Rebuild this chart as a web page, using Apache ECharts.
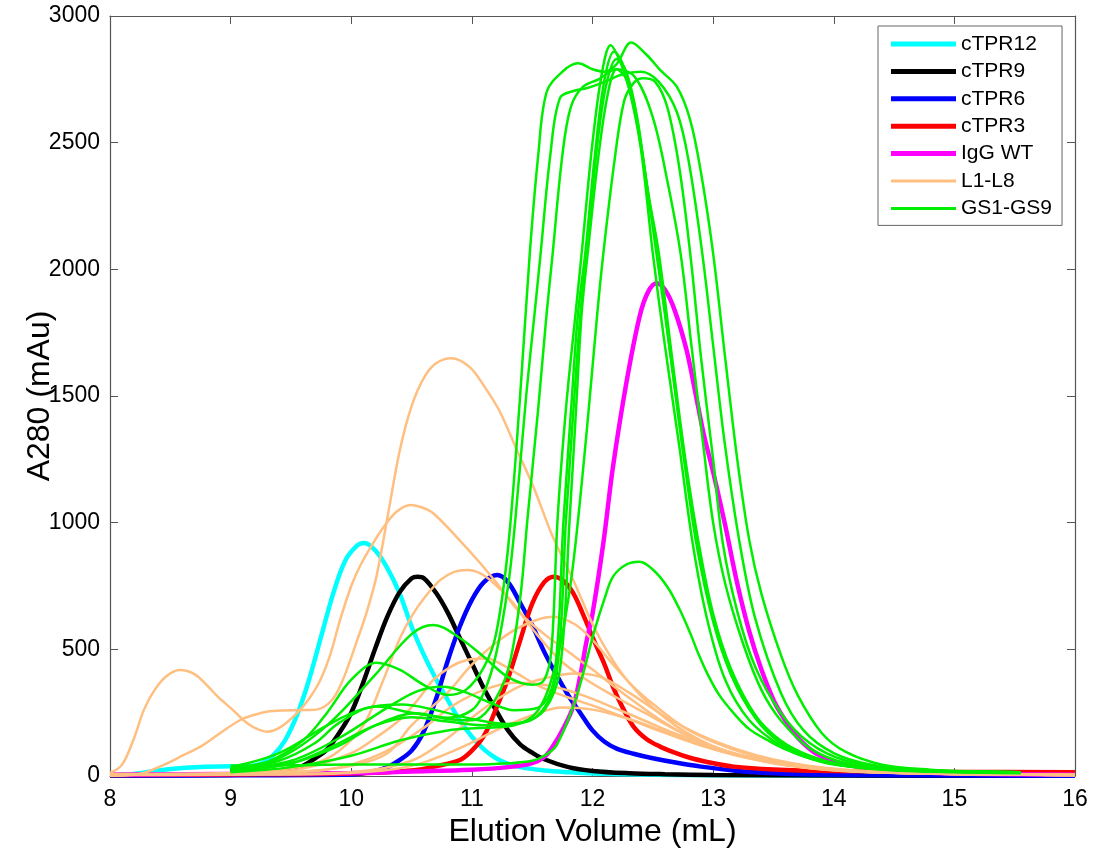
<!DOCTYPE html>
<html><head><meta charset="utf-8">
<script src="https://cdn.jsdelivr.net/npm/echarts@6/dist/echarts.min.js"></script>
<style>html,body{margin:0;padding:0;background:#fff}#c{width:1099px;height:854px}</style>
</head><body><div id="c"></div><script>
// ---- data: [elution volume (mL), A280 (mAu)] ----
const cTPR12 = [[8,3],[8.2,8],[8.4,22],[8.6,32],[8.8,37],[9.0,38],[9.15,40],[9.25,48],[9.35,80],[9.45,140],[9.55,240],[9.65,380],[9.75,550],[9.85,720],[9.95,850],[10.05,910],[10.11,920],[10.2,890],[10.3,820],[10.4,722],[10.5,590],[10.6,480],[10.7,385],[10.8,300],[10.9,220],[11.0,155],[11.1,105],[11.2,70],[11.3,48],[11.4,35],[11.6,22],[11.8,15],[12.0,10],[12.5,5],[13,3],[14,2],[16,1]];
const cTPR9 = [[8,2],[9,4],[9.3,10],[9.5,25],[9.6,40],[9.7,70],[9.8,105],[9.9,170],[10.0,250],[10.1,370],[10.2,505],[10.3,630],[10.4,725],[10.5,780],[10.55,787],[10.6,782],[10.7,725],[10.8,645],[10.9,545],[11.0,445],[11.1,345],[11.2,260],[11.3,180],[11.4,125],[11.5,92],[11.6,66],[11.8,35],[12.0,20],[12.3,11],[12.6,7],[13,4],[14,2],[16,1]];
const cTPR6 = [[8,2],[9,3],[10,6],[10.2,20],[10.3,35],[10.4,63],[10.5,100],[10.6,175],[10.7,300],[10.8,455],[10.9,590],[11.0,695],[11.1,765],[11.21,793],[11.3,765],[11.4,683],[11.5,595],[11.6,490],[11.7,400],[11.8,318],[11.9,248],[12.0,180],[12.1,135],[12.2,108],[12.34,88],[12.5,70],[12.7,52],[12.9,37],[13.2,20],[13.45,12],[13.8,6],[14.5,3],[16,1]];
const cTPR3 = [[8,4],[9,6],[10,10],[10.5,22],[10.7,38],[10.9,63],[11.0,100],[11.1,158],[11.2,265],[11.3,385],[11.4,535],[11.5,680],[11.6,765],[11.68,787],[11.76,770],[11.84,722],[11.92,640],[12.01,537],[12.1,440],[12.17,352],[12.25,270],[12.34,195],[12.45,145],[12.56,116],[12.67,94],[12.78,76],[12.95,55],[13.17,37],[13.5,26],[14,20],[15,16],[16,15]];
const IgGWT = [[8,5],[9,8],[10,12],[10.5,18],[11,25],[11.3,35],[11.5,51],[11.6,75],[11.67,116],[11.75,180],[11.84,274],[11.9,400],[11.95,530],[12.0,640],[12.09,920],[12.17,1221],[12.28,1550],[12.39,1813],[12.46,1910],[12.53,1945],[12.6,1920],[12.68,1840],[12.78,1681],[12.85,1520],[12.92,1354],[13.0,1200],[13.1,990],[13.2,760],[13.3,570],[13.4,420],[13.5,300],[13.56,248],[13.64,190],[13.72,142],[13.85,90],[14.05,51],[14.3,30],[14.6,18],[15,10],[16,5]];

const L1 = [[8,0],[8.15,3],[8.28,12],[8.45,45],[8.6,80],[8.75,116],[8.9,165],[9.08,221],[9.2,242],[9.3,254],[9.45,259],[9.58,260],[9.71,262],[9.84,300],[9.93,379],[10.05,537],[10.13,650],[10.21,790],[10.3,1020],[10.4,1280],[10.5,1460],[10.6,1570],[10.7,1628],[10.83,1649],[10.98,1615],[11.1,1540],[11.23,1440],[11.37,1290],[11.51,1142],[11.67,945],[11.84,774],[12.01,590],[12.15,470],[12.3,370],[12.5,270],[12.7,195],[12.9,140],[13.1,100],[13.35,65],[13.6,42],[13.9,26],[14.3,15],[15,8],[16,4]];
const L2 = [[8,12],[8.1,45],[8.2,150],[8.28,260],[8.37,340],[8.47,395],[8.58,418],[8.7,402],[8.8,360],[8.9,310],[9.02,260],[9.12,215],[9.2,190],[9.3,175],[9.42,195],[9.55,248],[9.65,305],[9.74,375],[9.82,470],[9.91,620],[10.0,750],[10.07,826],[10.17,910],[10.27,984],[10.38,1045],[10.49,1070],[10.6,1058],[10.68,1037],[10.87,945],[11.07,840],[11.23,747],[11.4,643],[11.6,560],[11.8,490],[12.0,420],[12.2,345],[12.4,275],[12.6,210],[12.8,155],[13.0,115],[13.3,72],[13.6,45],[13.9,28],[14.3,16],[15,8],[16,4]];
const L3 = [[8,8],[9,12],[9.4,25],[9.7,50],[9.9,100],[10.1,200],[10.25,360],[10.4,540],[10.5,630],[10.6,700],[10.74,774],[10.85,805],[10.97,813],[11.07,800],[11.15,774],[11.32,695],[11.51,576],[11.73,458],[11.95,380],[12.2,310],[12.45,245],[12.7,180],[12.95,125],[13.2,85],[13.5,52],[13.8,32],[14.2,18],[15,8],[16,4]];
const L4 = [[8,6],[9,8],[9.5,15],[10,40],[10.3,90],[10.5,200],[10.8,330],[11.0,440],[11.23,537],[11.45,600],[11.67,629],[11.85,600],[12.0,537],[12.17,440],[12.34,352],[12.5,285],[12.75,195],[13.0,135],[13.3,85],[13.6,52],[13.9,32],[14.3,18],[15,8],[16,4]];
const L5 = [[8,5],[9,6],[10,15],[10.5,60],[10.8,150],[11.0,230],[11.2,300],[11.4,355],[11.6,385],[11.85,405],[12.06,392],[12.3,330],[12.6,235],[12.9,160],[13.2,105],[13.5,65],[13.8,40],[14.2,22],[15,9],[16,4]];
const L6 = [[8,5],[9,8],[9.6,30],[10.0,90],[10.2,150],[10.4,221],[10.55,300],[10.68,379],[10.82,430],[10.96,458],[11.12,464],[11.25,440],[11.37,406],[11.57,352],[11.8,310],[12.05,270],[12.3,225],[12.6,170],[12.9,120],[13.2,80],[13.5,52],[13.8,32],[14.2,18],[15,8],[16,4]];
const L7 = [[8,5],[9,6],[9.7,20],[10.0,45],[10.3,100],[10.6,190],[10.85,280],[11.1,340],[11.35,368],[11.6,360],[11.85,330],[12.1,285],[12.4,225],[12.7,165],[13.0,115],[13.3,75],[13.6,47],[13.9,30],[14.3,17],[15,8],[16,4]];
const L8 = [[8,4],[9,5],[10,12],[10.5,40],[10.9,110],[11.2,180],[11.5,240],[11.75,270],[12.0,262],[12.3,225],[12.6,175],[12.9,125],[13.2,85],[13.5,55],[13.8,34],[14.2,19],[15,8],[16,4]];

const GS1 = [[9.0,30],[9.3,55],[9.6,140],[9.8,250],[10.0,380],[10.21,447],[10.4,420],[10.6,360],[10.8,320],[10.95,340],[11.1,430],[11.2,560],[11.3,900],[11.4,1500],[11.48,2063],[11.55,2450],[11.62,2700],[11.75,2780],[11.88,2813],[12.0,2790],[12.1,2780],[12.2,2810],[12.32,2895],[12.45,2846],[12.56,2787],[12.7,2720],[12.81,2589],[12.9,2380],[13.0,2063],[13.1,1650],[13.2,1250],[13.3,930],[13.4,720],[13.56,480],[13.7,320],[13.9,170],[14.1,95],[14.4,45],[14.8,25],[15.2,18],[15.55,15]];
const GS2 = [[9.0,25],[9.4,60],[9.7,130],[9.9,210],[10.21,274],[10.5,250],[10.8,230],[11.0,260],[11.1,330],[11.2,480],[11.3,750],[11.36,1010],[11.45,1500],[11.52,1827],[11.57,2063],[11.65,2450],[11.73,2676],[11.85,2705],[11.95,2715],[12.1,2740],[12.25,2770],[12.4,2780],[12.55,2740],[12.7,2620],[12.8,2420],[12.91,2063],[13.0,1700],[13.1,1300],[13.22,920],[13.35,620],[13.56,330],[13.75,180],[14.0,90],[14.3,45],[14.7,25],[15.2,15],[15.55,12]];
const GS3 = [[9.0,20],[9.5,50],[9.9,120],[10.2,200],[10.54,248],[10.8,225],[11.0,220],[11.15,270],[11.3,420],[11.4,700],[11.46,1010],[11.55,1450],[11.62,1827],[11.67,2063],[11.75,2450],[11.82,2640],[11.92,2720],[12.05,2750],[12.2,2790],[12.35,2760],[12.5,2600],[12.62,2350],[12.73,2063],[12.82,1700],[12.92,1300],[13.0,1000],[13.1,760],[13.25,520],[13.4,340],[13.56,220],[13.8,110],[14.1,50],[14.5,25],[15.0,17],[15.55,14]];
const GS4 = [[9.0,30],[9.4,70],[9.8,200],[10.2,400],[10.5,560],[10.68,596],[10.9,545],[11.1,470],[11.3,390],[11.5,360],[11.6,380],[11.66,500],[11.71,1010],[11.78,1450],[11.86,1827],[11.91,2063],[12.0,2500],[12.08,2780],[12.15,2885],[12.22,2830],[12.3,2720],[12.4,2480],[12.5,2063],[12.6,1700],[12.72,1300],[12.83,920],[12.95,620],[13.1,380],[13.3,220],[13.56,120],[13.8,70],[14.1,40],[14.5,25],[15.0,18],[15.55,15]];
const GS5 = [[9.0,25],[9.5,60],[9.9,150],[10.3,270],[10.55,335],[10.76,352],[10.95,330],[11.15,290],[11.35,260],[11.55,270],[11.68,380],[11.76,1010],[11.83,1500],[11.88,1827],[11.94,2063],[12.02,2450],[12.1,2750],[12.18,2860],[12.26,2800],[12.35,2640],[12.45,2330],[12.53,2063],[12.65,1650],[12.76,1250],[12.87,920],[13.0,620],[13.15,400],[13.35,230],[13.56,130],[13.8,75],[14.1,40],[14.5,25],[15.0,18],[15.55,15]];
const GS6 = [[9.0,20],[9.5,50],[9.9,130],[10.2,200],[10.5,232],[10.8,215],[11.1,200],[11.4,210],[11.6,260],[11.73,420],[11.81,1010],[11.87,1500],[11.91,1827],[11.96,2063],[12.05,2450],[12.13,2700],[12.2,2790],[12.28,2750],[12.38,2550],[12.47,2280],[12.55,2063],[12.66,1650],[12.77,1250],[12.88,920],[13.0,640],[13.15,420],[13.35,240],[13.56,140],[13.8,80],[14.1,42],[14.5,25],[15.0,18],[15.55,15]];
const GS7 = [[9.0,15],[9.5,35],[10.0,80],[10.4,140],[10.8,180],[11.1,190],[11.35,200],[11.55,260],[11.7,450],[11.8,700],[11.86,920],[11.95,1350],[12.04,1827],[12.09,2063],[12.18,2420],[12.26,2660],[12.34,2735],[12.42,2754],[12.52,2740],[12.62,2640],[12.72,2400],[12.81,2063],[12.9,1650],[13.0,1250],[13.08,920],[13.2,650],[13.35,430],[13.56,250],[13.8,130],[14.1,60],[14.5,30],[15.0,18],[15.55,15]];
const GS8 = [[9.0,40],[9.5,42],[10.0,45],[10.5,45],[11.0,45],[11.3,50],[11.5,60],[11.6,80],[11.7,120],[11.84,274],[11.92,400],[12.01,564],[12.1,700],[12.17,787],[12.28,835],[12.39,846],[12.5,815],[12.62,747],[12.72,660],[12.81,564],[12.88,480],[12.95,406],[13.05,320],[13.17,248],[13.3,185],[13.45,142],[13.6,105],[13.8,70],[14.0,45],[14.4,25],[15.0,15],[15.55,12]];
const GS9 = [[9.0,35],[9.4,90],[9.8,200],[10.1,265],[10.42,282],[10.7,260],[11.0,225],[11.3,205],[11.55,240],[11.7,400],[11.78,1010],[11.85,1500],[11.9,1827],[11.95,2063],[12.03,2450],[12.11,2720],[12.2,2830],[12.28,2780],[12.37,2600],[12.46,2300],[12.54,2063],[12.65,1650],[12.76,1250],[12.86,920],[13.0,610],[13.15,400],[13.35,230],[13.56,130],[13.8,75],[14.1,40],[14.5,25],[15.0,18],[15.55,15]];

const legendNames = ['cTPR12','cTPR9','cTPR6','cTPR3','IgG WT','L1-L8','GS1-GS9'];
const xTitle = 'Elution Volume (mL)';
const yTitle = 'A280 (mAu)';

const FONT = 'Liberation Sans, Arial, sans-serif';
const AXC = '#555';
const THICK_ICON = 'path://M0,0H65V5H0Z';
const THIN_ICON = 'path://M0,0H65V3H0Z';
function mk(name, data, color, width){
  return {type:'line', name, data, symbol:'none', showSymbol:false, smooth:0.35,
    lineStyle:{color, width}, itemStyle:{color}, animation:false, emphasis:{disabled:true}};
}
const series = [
  mk('cTPR12', cTPR12, '#00ffff', 4.5),
  mk('cTPR9', cTPR9, '#000000', 4.5),
  mk('cTPR6', cTPR6, '#0000ff', 4.5),
  mk('cTPR3', cTPR3, '#ff0000', 4.5),
  mk('IgG WT', IgGWT, '#ff00ff', 4.5),
];
[L1,L2,L3,L4,L5,L6,L7,L8].forEach(d=>series.push(mk('L1-L8', d, '#ffbf80', 2.5)));
[GS1,GS2,GS3,GS4,GS5,GS6,GS7,GS8,GS9].forEach(d=>series.push(mk('GS1-GS9', d, '#00ee00', 2.5)));

function xAx(pos, show){
  return {type:'value', min:8, max:16, interval:1, position:pos,
    axisLine:{show:true, onZero:false, lineStyle:{color:AXC, width:1.2}},
    axisTick:{show:true, inside:true, length:8, lineStyle:{color:AXC}},
    axisLabel:{show:show, fontSize:23, color:'#000', margin:12, fontFamily:FONT},
    splitLine:{show:false},
    name: show ? xTitle : '', nameLocation:'middle', nameGap:40, nameMoveOverlap:false,
    nameTextStyle:{fontSize:32, color:'#000', fontFamily:FONT}};
}
function yAx(pos, show){
  return {type:'value', min:0, max:3000, interval:500, position:pos,
    axisLine:{show:true, onZero:false, lineStyle:{color:AXC, width:1.2}},
    axisTick:{show:true, inside:true, length:8, lineStyle:{color:AXC}},
    axisLabel:{show:show, fontSize:23, color:'#000', margin:10, fontFamily:FONT,
      formatter:v=>String(v)},
    splitLine:{show:false},
    name: show ? yTitle : '', nameLocation:'middle', nameGap:54, nameRotate:90, nameMoveOverlap:false,
    nameTextStyle:{fontSize:32, color:'#000', fontFamily:FONT}};
}

const legendData = legendNames.map((n,i)=>({name:n, icon: i<5 ? THICK_ICON : THIN_ICON}));

const chart = echarts.init(document.getElementById('c'), null, {renderer:'canvas'});
chart.setOption({
  backgroundColor:'#fff',
  animation:false,
  grid:{left:110, right:24, top:16, bottom:78, containLabel:false, outerBoundsMode:'none'},
  xAxis:[xAx('bottom', true), xAx('top', false)],
  yAxis:[yAx('left', true), yAx('right', false)],
  legend:{data:legendData, orient:'vertical', left:878, top:26, width:186,
    padding:[7, 10, 6, 13], itemWidth:65, itemHeight:12, itemGap:5.4, symbolKeepAspect:true,
    backgroundColor:'#fff', borderColor:'#666', borderWidth:1,
    textStyle:{fontSize:21, color:'#000', fontFamily:FONT, lineHeight:22}},
  series
});
</script></body></html>
